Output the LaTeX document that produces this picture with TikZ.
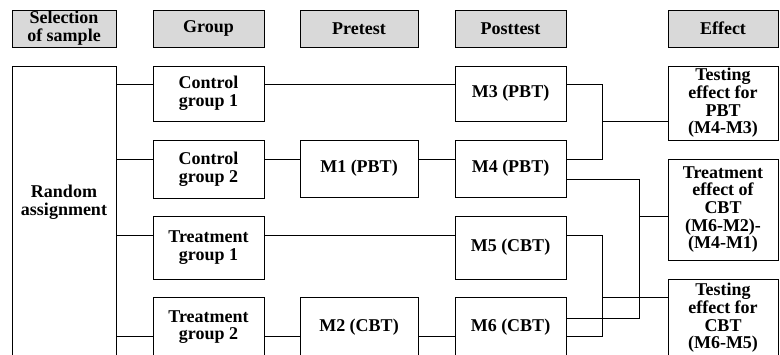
\documentclass[tikz,border=0pt]{standalone}
\usepackage{fontspec}
\setmainfont{Liberation Serif}
\begin{document}
\begin{tikzpicture}[x=1pt,y=-1pt,
    every node/.style={draw,line width=1pt,align=center,inner sep=0pt,
        font=\bfseries\fontsize{18}{17.7}\selectfont},
    head/.style={fill=black!15,minimum height=37pt},
    link/.style={line width=0.8pt}]
    %
    \useasboundingbox (0,0) rectangle (780,354);
    \clip (0,0) rectangle (780,354);
    %
    \node[head,minimum width=104pt] (hsel) at (64,28.5) {Selection\\of sample};
    \node[head,minimum width=111pt] (hgrp) at (208.5,28.5) {Group};
    \node[head,minimum width=118pt] (hpre) at (359,28.5) {Pretest};
    \node[head,minimum width=111pt] (hpost) at (510.5,28.5) {Posttest};
    \node[head,minimum width=110pt] (heff) at (723,28.5) {Effect};
    %
    \node[minimum width=104pt,minimum height=320pt,anchor=north] (rand) at (64,66) {};
    \node[draw=none] (randtxt) at (64,202) {Random\\assignment};
    %
    \node[minimum width=111pt,minimum height=55pt] (cg1) at (208.5,93.5) {Control\\group 1};
    \node[minimum width=111pt,minimum height=58pt] (cg2) at (208.5,169) {Control\\group 2};
    \node[minimum width=111pt,minimum height=63pt] (tg1) at (208.5,247.5) {Treatment\\group 1};
    \node[minimum width=111pt,minimum height=60pt] (tg2) at (208.5,327) {Treatment\\group 2};
    %
    \node[minimum width=118pt,minimum height=57pt] (m1) at (359,168.5) {M1 (PBT)};
    \node[minimum width=118pt,minimum height=60pt] (m2) at (359,327) {M2 (CBT)};
    %
    \node[minimum width=111pt,minimum height=55pt] (m3) at (510.5,93.5) {M3 (PBT)};
    \node[minimum width=111pt,minimum height=57pt] (m4) at (510.5,168.5) {M4 (PBT)};
    \node[minimum width=111pt,minimum height=63pt] (m5) at (510.5,247.5) {M5 (CBT)};
    \node[minimum width=111pt,minimum height=60pt] (m6) at (510.5,327) {M6 (CBT)};
    %
    \node[minimum width=110pt,minimum height=74pt] (te1) at (723,103) {Testing\\effect for\\PBT\\(M4-M3)};
    \node[minimum width=110pt,minimum height=101pt] (te2) at (723,209.5) {Treatment\\effect of\\CBT\\(M6-M2)-\\(M4-M1)};
    \node[minimum width=110pt,minimum height=78pt] (te3) at (723,318) {Testing\\effect for\\CBT\\(M6-M5)};
    %
    \coordinate (ya) at (0,84);
    \coordinate (yb) at (0,159);
    \coordinate (yb2) at (0,179);
    \coordinate (yc) at (0,235);
    \coordinate (yd) at (0,336);
    \coordinate (yd2) at (0,318);
    \coordinate (ye1) at (0,121);
    \coordinate (ye2) at (0,216);
    \coordinate (ye3) at (0,297);
    \coordinate (bus1) at (602,0);
    \coordinate (bus2) at (639,0);
    %
    \draw[link] (rand.east |- ya) -- (cg1.west |- ya);
    \draw[link] (rand.east |- yb) -- (cg2.west |- yb);
    \draw[link] (rand.east |- yc) -- (tg1.west |- yc);
    \draw[link] (rand.east |- yd) -- (tg2.west |- yd);
    %
    \draw[link] (cg1.east |- ya) -- (m3.west |- ya);
    \draw[link] (cg2.east |- yb) -- (m1.west |- yb);
    \draw[link] (m1.east |- yb) -- (m4.west |- yb);
    \draw[link] (tg1.east |- yc) -- (m5.west |- yc);
    \draw[link] (tg2.east |- yd) -- (m2.west |- yd);
    \draw[link] (m2.east |- yd) -- (m6.west |- yd);
    %
    \draw[link] (m3.east |- ya) -- (bus1 |- ya) -- (bus1 |- yb) -- (m4.east |- yb);
    \draw[link] (bus1 |- ye1) -- (te1.west |- ye1);
    \draw[link] (m4.east |- yb2) -- (bus2 |- yb2) -- (bus2 |- yd2) -- (m6.east |- yd2);
    \draw[link] (bus2 |- ye2) -- (te2.west |- ye2);
    \draw[link] (m5.east |- yc) -- (bus1 |- yc) -- (bus1 |- yd) -- (m6.east |- yd);
    \draw[link] (bus1 |- ye3) -- (te3.west |- ye3);
    %
\end{tikzpicture}
\end{document}
